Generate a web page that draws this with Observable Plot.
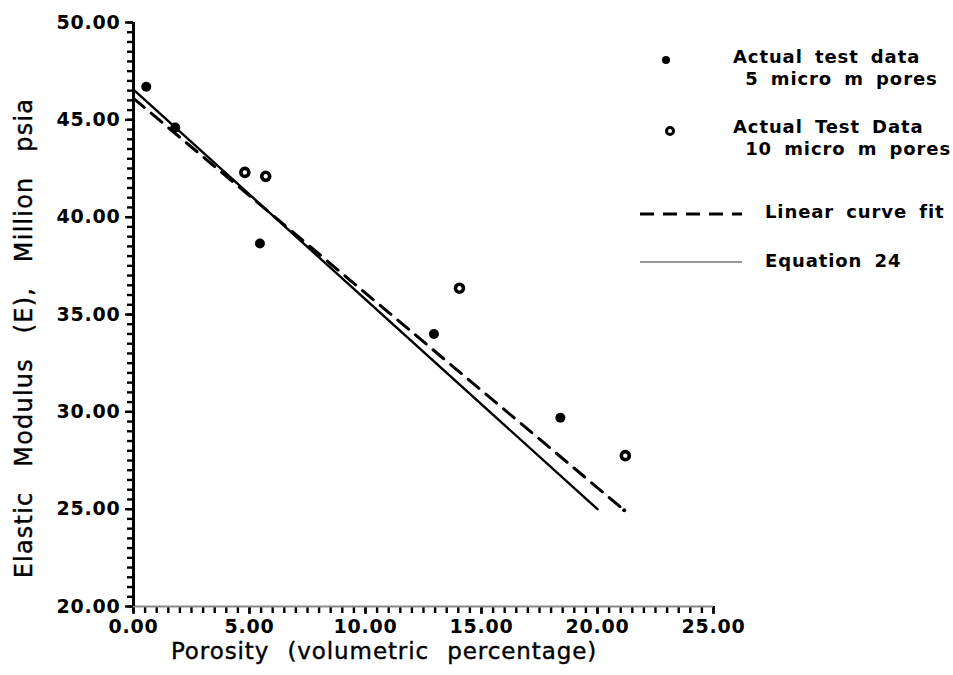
<!DOCTYPE html>
<html>
<head>
<meta charset="utf-8">
<script src="https://cdn.jsdelivr.net/npm/d3@7"></script>
<script src="https://cdn.jsdelivr.net/npm/@observablehq/plot@0.6"></script>
<style>
  body { margin: 0; background: #fff; }
  #wrap { position: relative; width: 953px; height: 675px; overflow: hidden; }
  #wrap svg text { letter-spacing: 0.8px; }
  .ov { position: absolute; font-family: "DejaVu Sans", sans-serif; color: #000; white-space: nowrap; }
  .leg { font-weight: bold; font-size: 18px; letter-spacing: 0.9px; word-spacing: 5px; line-height: 22px; }
  .ttl { font-size: 23px; word-spacing: 10px; letter-spacing: 0.9px; font-weight: 500; -webkit-text-stroke: 0.4px #000; }
  .ttly { font-size: 24px; word-spacing: 16px; letter-spacing: 1.2px; }
</style>
</head>
<body>
<div id="wrap"></div>
<script>
// ---- data ----
const poro5 = [0.55, 1.8, 5.45, 12.95, 18.4];
const mod5  = [46.7, 44.6, 38.65, 34.0, 29.7];
const poro10 = [4.8, 5.7, 14.05, 21.2];
const mod10  = [42.3, 42.1, 36.35, 27.75];
const fitPoro = [0, 21.15];
const fitMod  = [46.1, 24.95];
const eqPoro = [0, 20];
const eqMod  = [46.55, 25.0];
const xMajor = [0, 5, 10, 15, 20, 25];
const yMajor = [20, 25, 30, 35, 40, 45, 50];
const xMinor = d3.range(0, 25.001, 0.5);
const yMinor = d3.range(20, 50.001, 0.5);
const labels = {
  x: "Porosity (volumetric percentage)",
  y: "Elastic Modulus (E), Million psia",
  s5a: "Actual test data", s5b: "5 micro m pores",
  s10a: "Actual Test Data", s10b: "10 micro m pores",
  fit: "Linear curve fit", eq: "Equation 24"
};

const pts5 = poro5.map((p, i) => ({p, m: mod5[i]}));
const pts10 = poro10.map((p, i) => ({p, m: mod10[i]}));
const fit = fitPoro.map((p, i) => ({p, m: fitMod[i]}));
const eq = eqPoro.map((p, i) => ({p, m: eqMod[i]}));

const chart = Plot.plot({
  width: 953,
  height: 675,
  marginLeft: 133,
  marginRight: 240,
  marginTop: 22,
  marginBottom: 69,
  x: {domain: [0, 25]},
  y: {domain: [20, 50]},
  style: {fontFamily: "DejaVu Sans", fontSize: "19px", fontWeight: "bold", color: "#000", background: "#fff"},
  marks: [
    Plot.axisY(yMinor, {tickSize: 6, tickFormat: () => "", label: null, strokeWidth: 2.4}),
    Plot.axisY(yMajor, {tickSize: 8, tickPadding: 5, tickFormat: d => d.toFixed(2), label: null, strokeWidth: 2.4}),
    Plot.axisX(xMinor, {tickSize: 7, tickFormat: () => "", label: null, strokeWidth: 2.4}),
    Plot.axisX(xMajor, {tickSize: 8, tickPadding: 5, tickFormat: d => d.toFixed(2), label: null, strokeWidth: 2.4}),
    Plot.ruleY([20], {stroke: "#8a8a8a", strokeWidth: 2}),
    Plot.ruleX([0], {stroke: "#000", strokeWidth: 3}),
    Plot.line(eq, {x: "p", y: "m", stroke: "#000", strokeWidth: 2.4}),
    Plot.line(fit, {x: "p", y: "m", stroke: "#000", strokeWidth: 3, strokeDasharray: "14,9"}),
    Plot.dot(fit.slice(-1), {x: "p", y: "m", r: 2, fill: "#000"}),
    Plot.dot(pts5, {x: "p", y: "m", r: 5, fill: "#000"}),
    Plot.dot(pts10, {x: "p", y: "m", r: 4, fill: "#fff", stroke: "#000", strokeWidth: 3.6})
  ]
});

const wrap = document.getElementById("wrap");
wrap.appendChild(chart);

function ov(html, css, cls) {
  const d = document.createElement("div");
  d.className = "ov " + (cls || "");
  d.innerHTML = html;
  Object.assign(d.style, css);
  wrap.appendChild(d);
  return d;
}

// axis titles
ov(labels.x, {left: "134px", top: "638px", width: "500px", textAlign: "center"}, "ttl");
ov(labels.y, {left: "-276px", top: "324px", width: "600px", textAlign: "center", transform: "rotate(-90deg)"}, "ttl ttly");

// legend swatches
const sw = document.createElementNS("http://www.w3.org/2000/svg", "svg");
sw.setAttribute("width", 953); sw.setAttribute("height", 675);
sw.style.position = "absolute"; sw.style.left = "0"; sw.style.top = "0"; sw.style.pointerEvents = "none";
sw.innerHTML = `
  <circle cx="666" cy="60" r="4" fill="#000"/>
  <circle cx="670" cy="131" r="3.5" fill="#fff" stroke="#000" stroke-width="3"/>
  <line x1="640" y1="214" x2="742" y2="214" stroke="#000" stroke-width="3" stroke-dasharray="14,9"/>
  <line x1="640" y1="262" x2="742" y2="262" stroke="#9a9a9a" stroke-width="2"/>`;
wrap.appendChild(sw);

ov(labels.s5a + "<br>&nbsp;" + labels.s5b, {left: "733px", top: "46px"}, "leg");
ov(labels.s10a + "<br>&nbsp;" + labels.s10b, {left: "733px", top: "116px"}, "leg");
ov(labels.fit, {left: "765px", top: "201px"}, "leg");
ov(labels.eq, {left: "765px", top: "250px"}, "leg");
</script>
</body>
</html>
